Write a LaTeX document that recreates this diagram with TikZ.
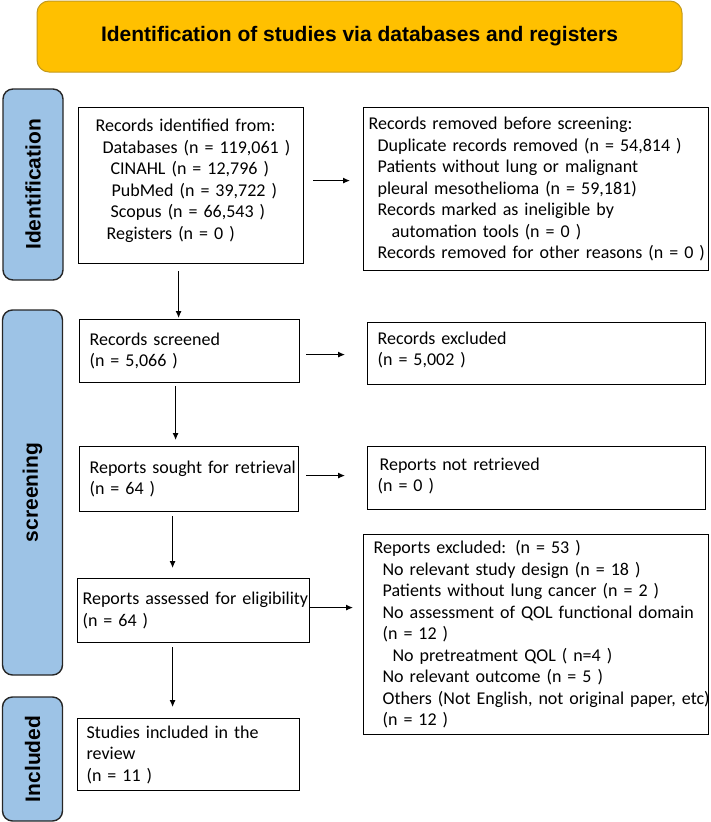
\documentclass[tikz,border=0pt]{standalone}
\usepackage{fontspec}
\setmainfont{Carlito}
\newfontfamily\headfont{Liberation Sans}
\usepackage{xcolor}
\usepackage{tikz}
\usetikzlibrary{positioning}
\usetikzlibrary{calc}
\usetikzlibrary{arrows.meta}
\definecolor{gold}{HTML}{FFC000}
\definecolor{goldline}{HTML}{C49A1C}
\definecolor{phaseblue}{HTML}{9DC3E6}
\tikzset{arr/.style={-{Latex[length=7pt,width=6pt]}, line width=1pt}}

\begin{document}
\begin{tikzpicture}
[
x=1pt, y=-1pt,
head/.style={rectangle, rounded corners=12pt, draw=goldline, line width=1pt, fill=gold, minimum width=645pt, minimum height=71pt, font=\headfont\bfseries\fontsize{21}{25}\selectfont},
phase/.style={rectangle, rounded corners=10pt, draw=black!85, line width=1.4pt, fill=phaseblue, rotate=90, minimum height=60pt, font=\headfont\bfseries\fontsize{21}{25}\selectfont},
b/.style={rectangle, draw=black, line width=1.2pt, fill=white, anchor=north west, align=left, inner xsep=0pt, inner ysep=0pt, font=\fontsize{18}{21.5}\selectfont}
]
\useasboundingbox (0,0) rectangle (710,822);

\node[head] (title) at (359.5,36.5) {Identification of studies via databases and registers};

\node[phase, minimum width=191pt] (pid) at (33,184.5) {Identification};
\node[phase, minimum width=365pt] (pscr) at (32.5,492.5) {screening};
\node[phase, minimum width=124pt] (pinc) at (32.5,759) {Included};

\node[b, text width=225pt, minimum height=156pt, text depth=120.5pt] (id) at (78,107) {\hspace*{17pt}Records identified from:\\
\hspace*{24pt}Databases (n = 119,061 )\\
\hspace*{32pt}CINAHL (n = 12,796 )\\
\hspace*{33pt}PubMed (n = 39,722 )\\
\hspace*{32pt}Scopus (n = 66,543 )\\
\hspace*{28pt}Registers (n = 0 )};
\node[b, text width=345pt, minimum height=163pt] (rm) at (363,107) {\hspace*{5pt}Records removed before screening:\\
\hspace*{14pt}Duplicate records removed (n = 54,814 )\\
\hspace*{14pt}Patients without lung or malignant\\
\hspace*{14pt}pleural mesothelioma (n = 59,181)\\
\hspace*{14pt}Records marked as ineligible by\\
\hspace*{28pt}automation tools (n = 0 )\\
\hspace*{14pt}\mbox{Records removed for other reasons (n = 0 )}};

\node[b, text width=220pt, minimum height=63pt] (scr) at (79,319) {\hspace*{10pt}Records screened\\ \hspace*{10pt}(n = 5,066 )};
\node[b, text width=338pt, minimum height=62pt, text depth=31.5pt] (exc) at (367,322) {\hspace*{10pt}Records excluded\\ \hspace*{10pt}(n = 5,002 )};

\node[b, text width=219pt, minimum height=65pt] (sgt) at (79,446) {\hspace*{10pt}Reports sought for retrieval\\ \hspace*{10pt}(n = 64 )};
\node[b, text width=338pt, minimum height=63pt, text depth=28.5pt] (nrt) at (367,446) {\hspace*{12pt}Reports not retrieved\\ \hspace*{10pt}(n = 0 )};

\node[b, text width=232pt, minimum height=64pt] (ass) at (77,578) {\hspace*{5pt}Reports assessed for eligibility\\ \hspace*{5pt}(n = 64 )};
\node[b, text width=345pt, minimum height=200pt] (rex) at (363,534) {\hspace*{10pt}Reports excluded: (n = 53 )\\
\hspace*{19pt}No relevant study design (n = 18 )\\
\hspace*{19pt}Patients without lung cancer (n = 2 )\\
\hspace*{19pt}No assessment of QOL functional domain\\
\hspace*{19pt}(n = 12 )\\
\hspace*{29pt}No pretreatment QOL ( n=4 )\\
\hspace*{19pt}No relevant outcome (n = 5 )\\
\hspace*{19pt}\mbox{Others (Not English, not original paper, etc)}\\
\hspace*{19pt}(n = 12 )};

\node[b, text width=222pt, minimum height=72pt] (inc) at (77,718) {\hspace*{9pt}Studies included in the\\ \hspace*{9pt}review\\ \hspace*{9pt}(n = 11 )};

\draw[arr, shorten <=9pt, shorten >=13pt] ([yshift=5pt]id.east) -- ([yshift=5pt]id.east -| rm.west);
\draw[arr, shorten <=6pt, shorten >=22pt] ([yshift=-3.5pt]scr.east) -- ([yshift=-3.5pt]scr.east -| exc.west);
\draw[arr, shorten <=7pt, shorten >=22pt] ([yshift=3.5pt]sgt.east) -- ([yshift=3.5pt]sgt.east -| nrt.west);
\draw[arr, shorten >=10pt] ([yshift=3pt]ass.east) -- ([yshift=3pt]ass.east -| rex.west);

\draw[arr, shorten <=7pt, shorten >=1pt] ([xshift=-12.5pt]id.south) -- ([xshift=-12.5pt]id.south |- scr.north);
\draw[arr, shorten <=3pt, shorten >=6pt] ([xshift=-14pt]scr.south) -- ([xshift=-14pt]scr.south |- sgt.north);
\draw[arr, shorten <=4pt, shorten >=10pt] ([xshift=-16.5pt]sgt.south) -- ([xshift=-16.5pt]sgt.south |- ass.north);
\draw[arr, shorten <=4pt, shorten >=11pt] ([xshift=-21pt]ass.south) -- ([xshift=-21pt]ass.south |- inc.north);
\end{tikzpicture}
\end{document}
